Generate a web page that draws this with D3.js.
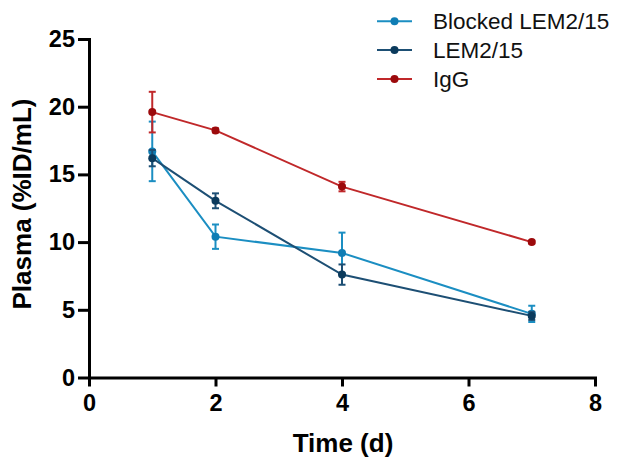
<!DOCTYPE html>
<html>
<head>
<meta charset="utf-8">
<script src="https://cdn.jsdelivr.net/npm/d3@7"></script>
<style>
  body { margin: 0; background: #fff; }
  svg { display: block; font-family: "Liberation Sans", Arial, sans-serif; }
</style>
</head>
<body>
<svg id="chart"></svg>
<script>
// data
const days = [1, 2, 4, 7];
const seriesNames = ["Blocked LEM2/15", "LEM2/15", "IgG"];
const blockedMean = [16.7, 10.4, 9.2, 4.7];
const blockedErr  = [2.2, 0.9, 1.5, 0.6];
const lemMean = [16.2, 13.05, 7.6, 4.55];
const lemErr  = [0.6, 0.55, 0.75, 0.3];
const iggMean = [19.6, 18.25, 14.1, 10.0];
const iggErr  = [1.5, 0.15, 0.35, 0.1];
const xTicks = [0, 2, 4, 6, 8];
const yTicks = [0, 5, 10, 15, 20, 25];

const colors = {
  "Blocked LEM2/15": {line: "#1b8ec2", dot: "#0f7db4"},
  "LEM2/15": {line: "#1d4f74", dot: "#0b3a5c"},
  "IgG": {line: "#c0282a", dot: "#9c0a0c"}
};

const series = [
  {name: seriesNames[0], mean: blockedMean, err: blockedErr},
  {name: seriesNames[1], mean: lemMean, err: lemErr},
  {name: seriesNames[2], mean: iggMean, err: iggErr}
].map(s => ({name: s.name, points: days.map((d, i) => ({x: d, y: s.mean[i], e: s.err[i]}))}));

const width = 622, height = 457;
const margin = {top: 39, right: 27, bottom: 79.5, left: 89};

const svg = d3.select("#chart").attr("width", width).attr("height", height);
const chart = svg.append("g").attr("transform", "translate(" + margin.left + "," + margin.top + ")");
const cw = width - margin.left - margin.right;
const ch = height - margin.top - margin.bottom;

const x = d3.scaleLinear().domain([0, 8]).range([0, 506]);
const y = d3.scaleLinear().domain([0, 25]).range([ch, 0]);

// axes
const xAxis = chart.append("g")
  .attr("transform", "translate(0," + ch + ")")
  .call(d3.axisBottom(x).tickValues(xTicks).tickSize(9).tickPadding(8).tickSizeOuter(0));
const yAxis = chart.append("g")
  .call(d3.axisLeft(y).tickValues(yTicks).tickSize(11).tickPadding(3).tickSizeOuter(0));

[xAxis, yAxis].forEach(g => {
  g.select(".domain").attr("stroke", "#000").attr("stroke-width", 3).attr("stroke-linecap", "square");
  g.selectAll(".tick line").attr("stroke", "#000").attr("stroke-width", 3);
  g.selectAll(".tick text")
    .attr("fill", "#000")
    .style("font-size", "23.5px")
    .style("font-weight", "bold")
    .style("font-family", "'Liberation Sans', Arial, sans-serif");
});
xAxis.selectAll(".tick text").attr("dy", "0.71em");

// axis titles
svg.append("text")
  .attr("x", 343).attr("y", 452)
  .attr("text-anchor", "middle")
  .style("font-size", "26px").style("font-weight", "bold")
  .text("Time (d)");

svg.append("text")
  .attr("transform", "translate(31,204) rotate(-90)")
  .attr("text-anchor", "middle")
  .style("font-size", "26px").style("font-weight", "bold")
  .text("Plasma (%ID/mL)");

// series
const line = d3.line().x(d => x(d.x)).y(d => y(d.y));
const cap = 3.5;

series.forEach(s => {
  const c = colors[s.name];
  const g = chart.append("g");
  g.append("path")
    .datum(s.points)
    .attr("fill", "none")
    .attr("stroke", c.line)
    .attr("stroke-width", 2)
    .attr("d", line);

  const eb = g.selectAll(".err").data(s.points).enter().append("g").attr("class", "err");
  eb.append("line")
    .attr("x1", d => x(d.x)).attr("x2", d => x(d.x))
    .attr("y1", d => y(d.y - d.e)).attr("y2", d => y(d.y + d.e))
    .attr("stroke", c.line).attr("stroke-width", 2);
  eb.append("line")
    .attr("x1", d => x(d.x) - cap).attr("x2", d => x(d.x) + cap)
    .attr("y1", d => y(d.y + d.e)).attr("y2", d => y(d.y + d.e))
    .attr("stroke", c.line).attr("stroke-width", 2);
  eb.append("line")
    .attr("x1", d => x(d.x) - cap).attr("x2", d => x(d.x) + cap)
    .attr("y1", d => y(d.y - d.e)).attr("y2", d => y(d.y - d.e))
    .attr("stroke", c.line).attr("stroke-width", 2);

  g.selectAll("circle").data(s.points).enter().append("circle")
    .attr("cx", d => x(d.x))
    .attr("cy", d => y(d.y))
    .attr("r", 4)
    .attr("fill", c.dot);
});

// legend
const legend = svg.append("g").attr("transform", "translate(377,21.3)");
seriesNames.forEach((name, i) => {
  const c = colors[name];
  const row = legend.append("g").attr("transform", "translate(0," + (i * 28.8) + ")");
  row.append("line").attr("x1", 0).attr("x2", 35).attr("y1", 0).attr("y2", 0)
    .attr("stroke", c.line).attr("stroke-width", 2);
  row.append("circle").attr("cx", 17.5).attr("cy", 0).attr("r", 4).attr("fill", c.dot);
  row.append("text")
    .attr("x", 56).attr("y", 0).attr("dy", "0.35em")
    .style("font-size", "22.5px")
    .attr("fill", "#111")
    .text(name);
});
</script>
</body>
</html>
